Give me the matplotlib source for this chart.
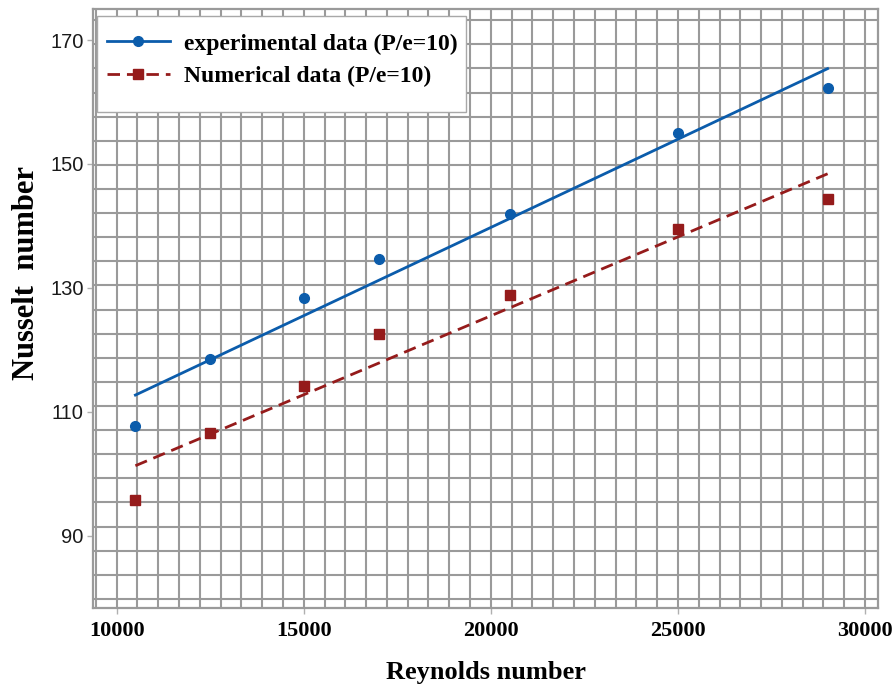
import matplotlib
matplotlib.use("Agg")
import matplotlib.pyplot as plt
from matplotlib.lines import Line2D
from matplotlib.patches import Rectangle
from matplotlib.ticker import FixedLocator
import numpy as np

# data
reynolds = [10500, 12500, 15000, 17000, 20500, 25000, 29000]
nu_exp = [107.7, 118.5, 128.3, 134.6, 141.9, 155.0, 162.3]
nu_num = [95.8, 106.6, 114.1, 122.5, 128.8, 139.5, 144.3]
x_ticks = [10000, 15000, 20000, 25000, 30000]
y_ticks = [90, 110, 130, 150, 170]
labels = ["experimental data (P/e=10)", "Numerical data (P/e=10)"]

blue = "#0b5cab"
red = "#951b1b"
grey = "#9a9a9a"
serif = ["Liberation Serif", "DejaVu Serif"]
narrow = ["Liberation Sans Narrow", "Liberation Sans"]

fig = plt.figure(figsize=(8.96, 6.87), dpi=100)
ax = fig.add_axes([93.3 / 896, 1 - 608 / 687, 785 / 896, 598.7 / 687])

# linear trend lines through each series
xs = np.array(reynolds, dtype=float)
fit_exp = np.polyfit(xs, nu_exp, 1)
fit_num = np.polyfit(xs, nu_num, 1)
xl = np.array([xs.min(), xs.max()])

ax.plot(xl, np.polyval(fit_exp, xl), color=blue, lw=2, zorder=3)
ax.plot(xl, np.polyval(fit_num, xl), color=red, lw=2, dashes=(4.5, 2.5), zorder=3)
ax.plot(reynolds, nu_exp, "o", color=blue, ms=7, zorder=4)
ax.plot(reynolds, nu_num, "s", color=red, ms=7.5, zorder=4)

ax.set_xlim(9375, 30355)
ax.set_ylim(78.31, 174.96)

# background grid (not aligned with the y ticks in the original)
ax.xaxis.remove_overlapping_locs = False
ax.yaxis.remove_overlapping_locs = False
ax.xaxis.set_minor_locator(FixedLocator(np.arange(10000 - 5000 / 9, 30400, 5000 / 9)))
ax.yaxis.set_minor_locator(FixedLocator(np.arange(79.77, 175, 3.893)))
ax.grid(which="minor", color=grey, lw=1.5)
ax.grid(which="major", visible=False)
ax.tick_params(which="minor", length=0)

ax.set_xticks(x_ticks)
ax.set_yticks(y_ticks)
ax.tick_params(axis="both", which="major", color="#b0b0b0", length=4, width=1)
ax.tick_params(axis="x", pad=5)
ax.tick_params(axis="y", pad=3)
for t in ax.get_xticklabels():
    t.set_fontfamily(serif)
    t.set_fontweight("bold")
    t.set_fontsize(16)
for t in ax.get_yticklabels():
    t.set_fontfamily(narrow)
    t.set_fontsize(14.5)
    t.set_color("#1a1a1a")

for s in ax.spines.values():
    s.set_color(grey)
    s.set_linewidth(1.6)

ax.set_xlabel("Reynolds number", family=serif, fontweight="bold", fontsize=19, labelpad=15)
ax.set_ylabel("Nusselt  number", family=serif, fontweight="bold", fontsize=22)
ax.yaxis.set_label_coords(-0.067, 0.559)

# legend box
box = Rectangle((97 / 896, 1 - 112 / 687), 369 / 896, 96 / 687, transform=fig.transFigure,
                facecolor="white", edgecolor="#a8a8a8", lw=1, clip_on=False, zorder=4)
ax.add_patch(box)
handles = [Line2D([], [], color=blue, lw=2, marker="o", ms=7),
           Line2D([], [], color=red, lw=2, dashes=(4.5, 2.5), marker="s", ms=7.5)]
ax.legend(handles, labels, loc="upper left", bbox_to_anchor=(107 / 896, 1 - 33 / 687),
          bbox_transform=fig.transFigure, frameon=False, borderpad=0, borderaxespad=0,
          handlelength=2.65, handletextpad=0.6, labelspacing=0.47,
          prop={"family": serif, "weight": "bold", "size": 17})

fig.savefig("out.png", dpi=100)
